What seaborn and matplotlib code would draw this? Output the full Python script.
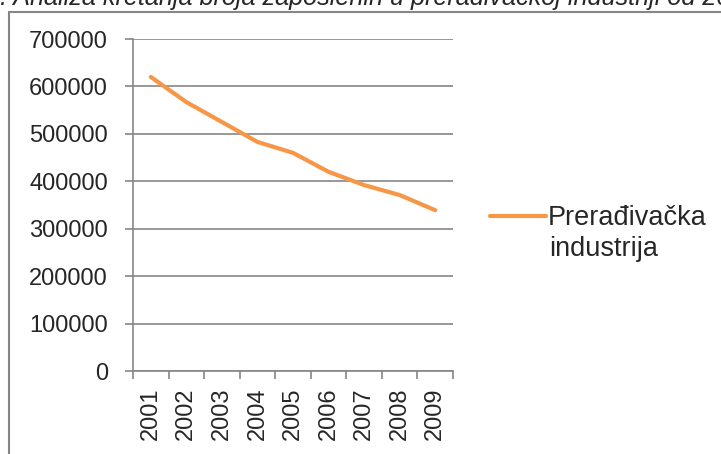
import matplotlib
matplotlib.use("Agg")
import matplotlib.pyplot as plt
import seaborn as sns
import pandas as pd
from matplotlib.lines import Line2D

years = ["2001", "2002", "2003", "2004", "2005", "2006", "2007", "2008", "2009"]
employed = [620000, 567000, 525000, 483000, 460000, 420000, 392000, 371000, 339000]
series_name = "Prerađivačka"
series_name_2 = "industrija"
y_ticks = [0, 100000, 200000, 300000, 400000, 500000, 600000, 700000]
title = ". Analiza kretanja broja zaposlenih u prerađivačkoj industriji od 2001. do 2009. godine"

sns.set_style("white")
plt.rcParams["font.family"] = ["Liberation Sans", "DejaVu Sans"]

df = pd.DataFrame({"pos": range(len(years)), "value": employed})

fig = plt.figure(figsize=(7.21, 4.54), dpi=100)
ax = fig.add_axes([133 / 721, 1 - 371 / 454, 320 / 721, 332 / 454])

grid_c = "#868686"
orange = "#F79646"

sns.lineplot(data=df, x="pos", y="value", ax=ax, color=orange, linewidth=3.0,
             solid_capstyle="round", label=series_name, legend=False)

ax.set_xlim(-0.5, len(years) - 0.5)
ax.set_ylim(0, 700000)
ax.set_yticks(y_ticks)
ax.set_yticklabels([str(v) for v in y_ticks], fontsize=17)
ax.set_xticks(range(len(years)))
ax.set_xticklabels(years, rotation=90, fontsize=17)
ax.set_xticks([i - 0.5 for i in range(len(years) + 1)], minor=True)
ax.tick_params(axis="x", which="major", length=0, pad=12)
ax.tick_params(axis="x", which="minor", length=6, width=1.2, color=grid_c, direction="out", bottom=True)
ax.tick_params(axis="y", which="major", length=6, width=1.2, color=grid_c, direction="out", pad=12, left=True)
ax.set_xlabel("")
ax.set_ylabel("")

ax.grid(axis="y", color=grid_c, linewidth=1.2)
ax.set_axisbelow(True)
for side in ["top", "right"]:
    ax.spines[side].set_visible(False)
for side in ["left", "bottom"]:
    ax.spines[side].set_color(grid_c)
    ax.spines[side].set_linewidth(1.2)

handle = Line2D([0], [0], color=orange, linewidth=3.0, solid_capstyle="round")
fig.legend([handle], [series_name], loc="center left", bbox_to_anchor=(490 / 721, 1 - 218 / 454),
           frameon=False, fontsize=19.5, handlelength=2.05, handletextpad=0.08, borderpad=0, borderaxespad=0)
fig.text(549 / 721, 1 - 249 / 454, series_name_2, fontsize=19.5, va="center", ha="left")

# chart border and cut-off caption
fig.add_artist(Line2D([9 / 721, 9 / 721], [0, 1 - 12 / 454], color=grid_c, linewidth=1.5))
fig.add_artist(Line2D([9 / 721, 1], [1 - 12 / 454, 1 - 12 / 454], color=grid_c, linewidth=1.5))
fig.text(0, 1 - 5 / 454, title, fontsize=18.2, style="italic", va="baseline", ha="left")

fig.savefig("out.png", dpi=100)
